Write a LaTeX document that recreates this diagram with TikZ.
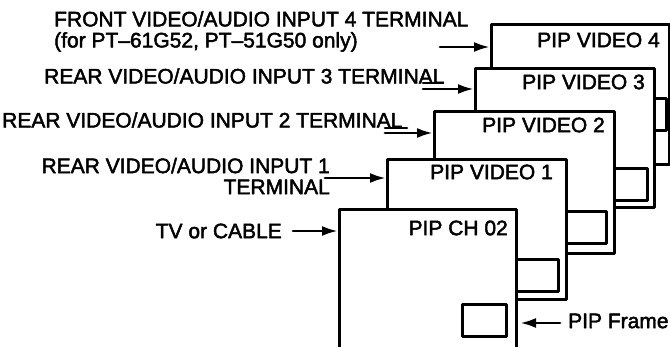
\documentclass[tikz,border=0pt]{standalone}
\usepackage{fontspec}
\setmainfont{Liberation Sans}
\newfontfamily\pipfont{Liberation Sans}[FakeBold=2.2]
\usepackage{tikz}
\usetikzlibrary{arrows.meta,positioning}
\newcommand{\piptext}{\pipfont\fontsize{21}{21}\selectfont}
\tikzset{
  every picture/.append style={line cap=round,line join=round},
  pip screen/.style={draw,fill=white,line width=3pt,inner sep=0pt,minimum width=178pt,minimum height=140pt,anchor=north west},
  pip frame/.style={draw,fill=white,line width=2.8pt,inner sep=0pt,minimum width=44pt,minimum height=32pt,anchor=north west},
  pip label/.style={font=\piptext,inner sep=0pt},
  pip arrow/.style={line width=2.8pt,-{Latex[length=16pt,width=10pt]}},
  pip lead/.style={line width=2.6pt}
}

\begin{document}
\begin{tikzpicture}[x=1pt,y=-1pt]
\useasboundingbox (0,0) rectangle (670,347);
% screens, back to front
\node[pip screen] (s4) at (490,23) {};
\node[pip frame,anchor=north east] (b4) at (668,97) {};
\node[pip label,anchor=east] (c4) at (660,40) {PIP VIDEO 4};
\node[pip screen,minimum width=179pt,minimum height=139pt] (s3) at (474,67) {};
\node[pip frame] (b3) at (602,167) {};
\node[pip label,anchor=east] (c3) at (645,82) {PIP VIDEO 3};
\node[pip screen,minimum width=180pt,minimum height=142pt] (s2) at (433,110) {};
\node[pip frame] (b2) at (561,210) {};
\node[pip label,anchor=east] (c2) at (605,125) {PIP VIDEO 2};
\node[pip screen,minimum width=179pt] (s1) at (386,158) {};
\node[pip frame] (b1) at (513,258) {};
\node[pip label,anchor=east] (c1) at (553,172) {PIP VIDEO 1};
\node[pip screen,minimum width=177pt,minimum height=150pt] (s0) at (338,208) {};
\node[pip frame] (b0) at (461,303) {};
\node[pip label,anchor=east] (c0) at (508,228) {PIP CH 02};
% inputs
\node[pip label,anchor=north west,align=left] (l4) at (54,11)
  {FRONT VIDEO/AUDIO INPUT 4 TERMINAL\\(for PT–61G52, PT–51G50 only)};
\node[pip label,anchor=west] (l3) at (44,76) {REAR VIDEO/AUDIO INPUT 3 TERMINAL};
\node[pip label,anchor=west] (l2) at (2,120) {REAR VIDEO/AUDIO INPUT 2 TERMINAL};
\node[pip label,anchor=east,align=right] (l1) at (330,176)
  {REAR VIDEO/AUDIO INPUT 1\\TERMINAL};
\node[pip label,anchor=east] (tv) at (282,231) {TV or CABLE};
\node[pip label,anchor=west] (pf) at (568,321) {PIP Frame};
\coordinate (t4) at (440,47);
\coordinate (u3) at (423,83);
\coordinate (t3) at (423,89);
\coordinate (u2) at (385,128);
\coordinate (t2) at (385,133);
\coordinate (t1) at (325,178);
\coordinate (t0) at (293,231);
\coordinate (tf) at (520,323);
\draw[pip arrow] (t4) -- (t4 -| s4.west);
\draw[pip lead] (u3) -- ++(20,0);
\draw[pip arrow] (t3) -- (t3 -| s3.west);
\draw[pip lead] (u2) -- ++(22,0);
\draw[pip arrow] (t2) -- (t2 -| s2.west);
\draw[pip arrow] (t1) -- (t1 -| s1.west);
\draw[pip arrow] (t0) -- (t0 -| s0.west);
\draw[pip arrow] (pf.west) ++(-8,2) -- (tf);
\end{tikzpicture}
\end{document}
